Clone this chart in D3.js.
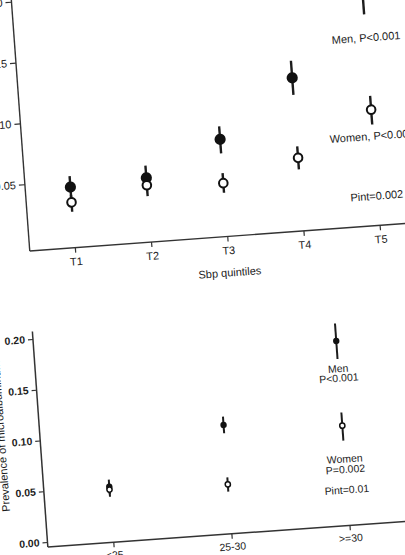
<!DOCTYPE html>
<html><head><meta charset="utf-8">
<script src="https://cdn.jsdelivr.net/npm/d3@7"></script>
<style>
html,body{margin:0;padding:0;background:#fff;overflow:hidden}
svg{display:block;font-family:"Liberation Sans",Arial,sans-serif}
</style></head><body>
<svg id="c" width="405" height="555"></svg>
<script>
// ---- Top panel data (SBP quintiles) ----
const sbpCats = ["T1","T2","T3","T4","T5"];
const sbpMen = [0.045, 0.048, 0.075, 0.121, 0.190];
const sbpMenLo = [0.036, 0.040, 0.0635, 0.107, 0.1685];
const sbpMenHi = [0.054, 0.058, 0.0857, 0.135, 0.212];
const sbpWomen = [0.0324, 0.0419, 0.039, 0.0552, 0.0902];
const sbpWomenLo = [0.0247, 0.033, 0.0311, 0.0457, 0.078];
const sbpWomenHi = [0.0384, 0.050, 0.0472, 0.0647, 0.1016];
const sbpTicks = [0.05, 0.10, 0.15, 0.20];

// ---- Bottom panel data (BMI groups) ----
const bmiCats = ["<25","25-30",">=30"];
const bmiMen = [0.0498, 0.1023, 0.1767];
const bmiMenLo = [0.0426, 0.0942, 0.159];
const bmiMenHi = [0.0569, 0.1105, 0.194];
const bmiWomen = [0.047, 0.0438, 0.0933];
const bmiWomenLo = [0.040, 0.0366, 0.0786];
const bmiWomenHi = [0.054, 0.0507, 0.1063];
const bmiTicks = [0.00, 0.05, 0.10, 0.15, 0.20];

const ink = "#1c1c1c";
const svg = d3.select("#c");

function errBars(g, x, y, cats, lo, hi, w) {
  g.selectAll(null).data(cats).join("line")
    .attr("x1", d => x(d)).attr("x2", d => x(d))
    .attr("y1", (d,i) => y(lo[i])).attr("y2", (d,i) => y(hi[i]))
    .attr("stroke", ink).attr("stroke-width", w);
}

// ================= TOP PANEL =================
{
  const g = svg.append("g").attr("transform","rotate(-4.2)");
  const x = d3.scalePoint().domain(sbpCats).range([56.5, 362.1]);
  const y = d3.scaleLinear().domain([0, 0.2]).range([246.6, 2.6]);
  const axisY = 252.5, axisX = 11.3;

  // axes lines
  g.append("line").attr("x1", axisX).attr("x2", axisX).attr("y1", -30).attr("y2", axisY)
    .attr("stroke", "#333").attr("stroke-width", 1.4);
  g.append("line").attr("x1", axisX).attr("x2", 440).attr("y1", axisY).attr("y2", axisY)
    .attr("stroke", "#333").attr("stroke-width", 1.4);

  const ya = g.append("g").attr("transform", `translate(${axisX},0)`)
    .call(d3.axisLeft(y).tickValues(sbpTicks).tickFormat(d3.format(".2f")).tickSize(6).tickPadding(3));
  ya.select(".domain").remove();
  ya.selectAll("line").attr("stroke","#333").attr("stroke-width",1.2);
  ya.selectAll("text").attr("fill", ink).style("font-size","11px").style("font-family","Liberation Sans, Arial");

  const xa = g.append("g").attr("transform", `translate(0,${axisY})`)
    .call(d3.axisBottom(x).tickSize(5).tickPadding(5));
  xa.select(".domain").remove();
  xa.selectAll("line").attr("stroke","#333").attr("stroke-width",1.2);
  xa.selectAll("text").attr("fill", ink).style("font-size","11px").style("font-family","Liberation Sans, Arial");

  g.append("text").attr("x", (x.range()[0]+x.range()[1])/2).attr("y", 292.5)
    .attr("text-anchor","middle").attr("fill", ink).style("font-size","11px").text("Sbp quintiles");

  errBars(g, x, y, sbpCats, sbpMenLo, sbpMenHi, 2.4);
  errBars(g, x, y, sbpCats, sbpWomenLo, sbpWomenHi, 2.4);

  g.selectAll(null).data(sbpCats).join("circle")
    .attr("cx", d => x(d)).attr("cy", (d,i) => y(sbpMen[i])).attr("r", 5.6).attr("fill", "#111");
  g.selectAll(null).data(sbpCats).join("circle")
    .attr("cx", d => x(d)).attr("cy", (d,i) => y(sbpWomen[i])).attr("r", 4.3)
    .attr("fill", "#fff").attr("stroke", "#111").attr("stroke-width", 2);

  const lab = [["Men, P<0.001", 327.9, 68.2], ["Women, P<0.001", 318.6, 166.8], ["Pint=0.002", 335, 226.7]];
  g.selectAll(null).data(lab).join("text")
    .attr("x", d => d[1]).attr("y", d => d[2]).attr("fill", ink)
    .style("font-size","11px").text(d => d[0]);
}

// ================= BOTTOM PANEL =================
{
  const g = svg.append("g").attr("transform","rotate(-4.1)");
  const x = d3.scalePoint().domain(bmiCats).range([74.2, 311]);
  const y = d3.scaleLinear().domain([0, 0.2]).range([544, 340.5]);
  const axisY = 549, axisX = 8.6;

  g.append("line").attr("x1", axisX).attr("x2", axisX).attr("y1", 333).attr("y2", axisY)
    .attr("stroke", "#333").attr("stroke-width", 1.5);
  g.append("line").attr("x1", axisX).attr("x2", 440).attr("y1", axisY).attr("y2", axisY)
    .attr("stroke", "#333").attr("stroke-width", 1.5);

  const ya = g.append("g").attr("transform", `translate(${axisX},0)`)
    .call(d3.axisLeft(y).tickValues(bmiTicks).tickFormat(d3.format(".2f")).tickSize(5).tickPadding(3));
  ya.select(".domain").remove();
  ya.selectAll("line").attr("stroke","#333").attr("stroke-width",1.2);
  ya.selectAll("text").attr("fill", ink).style("font-size","10.5px").style("font-weight","bold")
    .style("font-family","Liberation Sans, Arial");

  const xa = g.append("g").attr("transform", `translate(0,${axisY})`)
    .call(d3.axisBottom(x).tickSize(5).tickPadding(4));
  xa.select(".domain").remove();
  xa.selectAll("line").attr("stroke","#333").attr("stroke-width",1.2);
  xa.selectAll("text").attr("fill", ink).style("font-size","10.5px").style("font-family","Liberation Sans, Arial");

  g.append("text").attr("transform", "translate(-26.5,511) rotate(-90)")
    .attr("fill", ink).style("font-size","11px").text("Prevalence of microalbuminuria");

  errBars(g, x, y, bmiCats, bmiMenLo, bmiMenHi, 2);
  errBars(g, x, y, bmiCats, bmiWomenLo, bmiWomenHi, 2);

  g.selectAll(null).data(bmiCats).join("circle")
    .attr("cx", d => x(d)).attr("cy", (d,i) => y(bmiMen[i])).attr("r", 3.2).attr("fill", "#111");
  g.selectAll(null).data(bmiCats).join("circle")
    .attr("cx", d => x(d)).attr("cy", (d,i) => y(bmiWomen[i])).attr("r", 2.6)
    .attr("fill", "#fff").attr("stroke", "#111").attr("stroke-width", 1.5);

  const lab = [["Men", 395.5], ["P<0.001", 405], ["Women", 486], ["P=0.002", 496.5], ["Pint=0.01", 517]];
  g.selectAll(null).data(lab).join("text")
    .attr("x", x(">=30")).attr("y", d => d[1]).attr("text-anchor","middle").attr("fill", ink)
    .style("font-size","10.5px").text(d => d[0]);
}
</script>
</body></html>
